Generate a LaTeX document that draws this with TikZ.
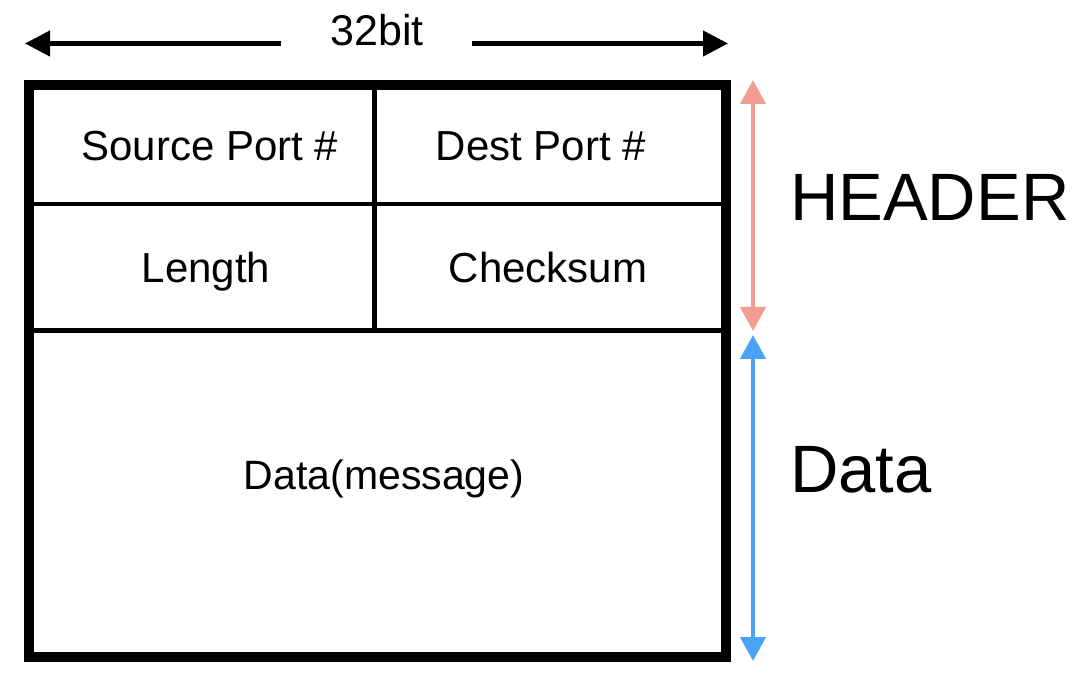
\documentclass[tikz,border=0pt]{standalone}
\usepackage{fontspec}
\setmainfont{Liberation Sans}
\usetikzlibrary{arrows.meta}
\definecolor{hdrpink}{HTML}{F19D92}
\definecolor{datablue}{HTML}{4BA3F7}
\tikzset{
  x=1pt,y=-1pt,
  cell/.style={anchor=base,inner sep=0pt,font=\fontsize{42}{42}\selectfont},
  big/.style={anchor=base west,inner sep=0pt,font=\fontsize{67}{67}\selectfont},
  widtharrow/.style={line width=4.5pt,-{Triangle[length=25pt,width=25pt]}},
  spanarrow/.style={line width=4.5pt,{Triangle[length=24pt,width=25pt]}-{Triangle[length=24pt,width=25pt]}},
}
\begin{document}
\begin{tikzpicture}
\useasboundingbox (0,0) rectangle (1090,684);
% frame
\draw[line width=10pt] (29,85) rectangle (726,657);
\draw[line width=4.5pt] (29,204) -- (726,204);
\draw[line width=4.5pt] (29,330.5) -- (726,330.5);
\draw[line width=4.5pt] (374.5,85) -- (374.5,330.5);
% cell labels
\node[cell] (src) at (210,161) {Source Port \#};
\node[cell] (dst) at (541,161) {Dest Port \#};
\node[cell] (len) at (206,282.5) {Length};
\node[cell] (chk) at (548,282.5) {Checksum};
\node[cell,font=\fontsize{41}{41}\selectfont] (msg) at (384,489.5) {Data(message)};
% width
\node[cell,font=\fontsize{43}{43}\selectfont] (bits) at (377,46) {32bit};
\coordinate (wl0) at (281,43.5);
\coordinate (wl1) at (25,43.5);
\coordinate (wr0) at (472,43.5);
\coordinate (wr1) at (728,43.5);
\draw[widtharrow] (wl0) -- (wl1);
\draw[widtharrow] (wr0) -- (wr1);
% spans
\coordinate (h0) at (753,80);
\coordinate (h1) at (753,331);
\coordinate (d0) at (753,335);
\coordinate (d1) at (753,661);
\draw[spanarrow,hdrpink] (h0) -- (h1);
\draw[spanarrow,datablue] (d0) -- (d1);
\node[big] (hdr) at (790,221) {HEADER};
\node[big] (dat) at (790,492) {Data};
\end{tikzpicture}
\end{document}
